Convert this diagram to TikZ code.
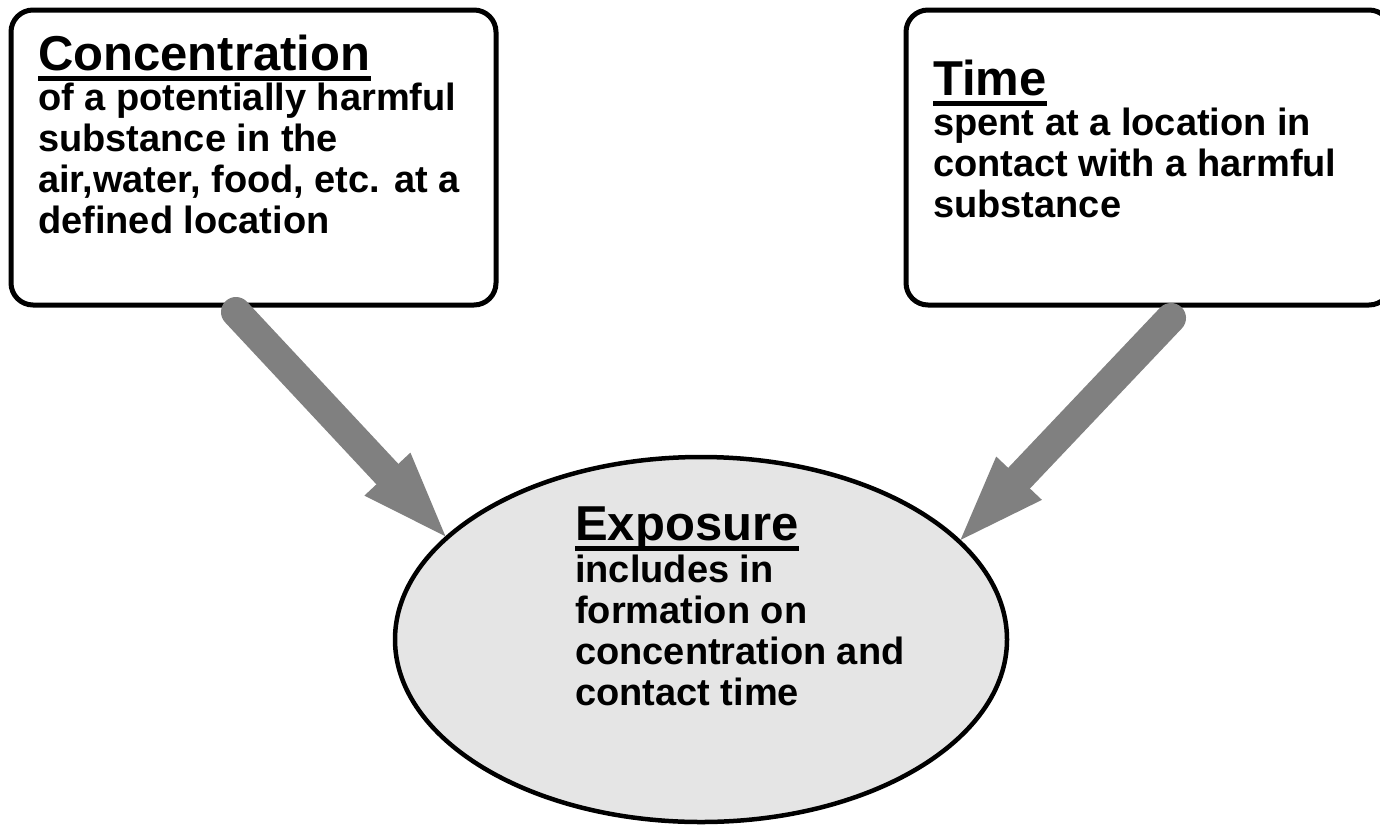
\documentclass[tikz,border=0pt]{standalone}
\usepackage{fontspec}
\setmainfont{Liberation Sans}
\usetikzlibrary{shapes.geometric,arrows.meta,calc}

% stack of left-aligned lines; the baseline is that of the first line
\newcommand\textlines[1]{\vtop{\baselineskip=41pt\lineskiplimit=-100pt\halign{##\hfil\cr#1\crcr}}}

\begin{document}
\begin{tikzpicture}[x=1pt,y=-1pt,
  panel/.style={draw=black, line width=5pt, rounded corners=22pt,
    minimum width=485pt, minimum height=295pt, inner sep=0pt, fill=white},
  bubble/.style={ellipse, draw=black, line width=4.5pt, fill=gray!20,
    minimum width=612pt, minimum height=365pt, inner sep=0pt},
  heading/.style={font=\fontsize{49}{49}\selectfont\bfseries, inner sep=0pt, anchor=base west},
  body/.style={font=\fontsize{38}{41}\selectfont\bfseries, inner sep=0pt, anchor=base west},
  uline/.style={line width=5pt},
  flow/.style={draw=gray, line width=30pt, line cap=round,
    -{Triangle[length=85pt,width=63pt,line width=0pt]}}
]
\useasboundingbox (0,0) rectangle (1380,825);
\fill[white] (0,0) rectangle (1380,825);

% the two input panels and the result bubble
\node[panel] (conc) at (253.5,157.5) {};
\node[panel] (time) at (1148.5,157.5) {};
\node[bubble] (expo) at (701,639.5) {};

% concentration panel
\node[heading] (concH) at (38,70) {Concentration};
\draw[uline] ($(concH.base west)+(0,8)$) -- ($(concH.base east)+(0,8)$);
\node[body] (concB) at (38,110) {\textlines{of a potentially harmful\cr
  substance in the\cr air,water, food, etc. at a\cr defined location}};

% time panel
\node[heading] (timeH) at (933,95) {Time};
\draw[uline] ($(timeH.base west)+(0,8)$) -- ($(timeH.base east)+(0,8)$);
\node[body] (timeB) at (933,135) {\textlines{spent at a location in\cr
  contact with a harmful\cr substance}};

% exposure bubble
\node[heading] (expoH) at (575,540) {Exposure};
\draw[uline] ($(expoH.base west)+(0,8)$) -- ($(expoH.base east)+(0,8)$);
\node[body] (expoB) at (575,582) {\textlines{includes in\cr formation on\cr
  concentration and\cr contact time}};

% thick grey arrows from each panel into the bubble
\coordinate (concTail) at (236,312);
\coordinate (timeTail) at (1171,318);
\draw[flow] (concTail) -- (expo.158);
\draw[flow] (timeTail) -- (expo.21);
\end{tikzpicture}
\end{document}
